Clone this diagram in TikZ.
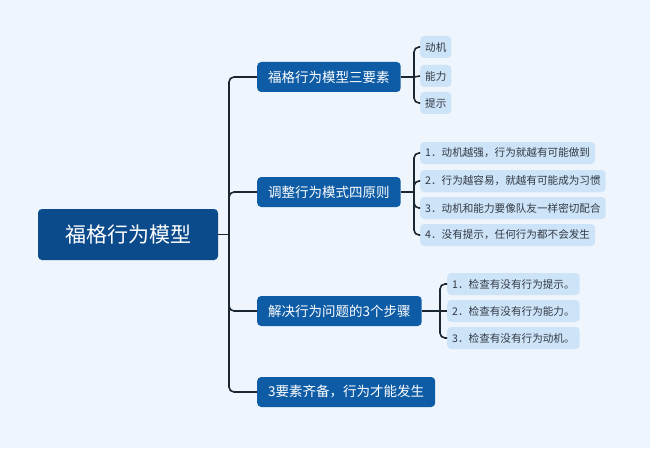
\documentclass[tikz,border=0pt]{standalone}
\usepackage{fontspec}
\setmainfont{Noto Sans CJK SC}
\begin{document}
\begin{tikzpicture}[x=1pt,y=1pt,
  rootbox/.style={fill=rootc,rounded corners=4pt,text=white,font=\fontsize{21}{24}\selectfont,minimum width=180pt,minimum height=51pt,inner sep=0pt},
  branch/.style={fill=brc,rounded corners=4pt,text=white,font=\fontsize{13.5}{16}\selectfont,minimum height=30pt,inner xsep=11pt,anchor=west},
  leaf/.style={fill=leafc,rounded corners=4pt,text=txtc,font=\fontsize{10.6}{12}\selectfont,minimum height=22pt,inner xsep=5pt,anchor=west},
  conn/.style={draw=linec,line width=1.6pt,rounded corners=5pt}]
\definecolor{rootc}{HTML}{0B4A8B}
\definecolor{brc}{HTML}{0F5CA6}
\definecolor{leafc}{HTML}{CDE3F8}
\definecolor{txtc}{HTML}{333A44}
\definecolor{linec}{HTML}{1B2633}
\definecolor{bgc}{HTML}{EEF5FC}
\fill[bgc] (0,0) rectangle (650,448);
\useasboundingbox (0,0) rectangle (650,448);
\node[rootbox] (root) at (128,213.5) {福格行为模型};
\node[branch] (b1) at (257,371) {福格行为模型三要素};
\node[branch] (b2) at (257,256) {调整行为模式四原则};
\node[branch] (b3) at (257,137) {解决行为问题的3个步骤};
\node[branch] (b4) at (257,56) {3要素齐备，行为才能发生};
\coordinate (t) at (229,213.5);
\draw[conn] (root.east) -- (t);
\draw[conn] (b1.west) -| (t) |- (b4.west);
\draw[conn] (t) |- (b2.west);
\draw[conn] (t) |- (b3.west);
% b1 leaves
\node[leaf] (l11) at (420,401) {动机};
\node[leaf] (l12) at (420,372) {能力};
\node[leaf] (l13) at (420,345) {提示};
\coordinate (k1) at (414,371);
\draw[conn] (b1.east) -- (k1);
\draw[conn] (l11.west) -| (k1) |- (l13.west);
\draw[conn] (k1) -- (l12.west);
% b2 leaves
\node[leaf] (l21) at (420,295) {1．动机越强，行为就越有可能做到};
\node[leaf] (l22) at (420,267) {2．行为越容易，就越有可能成为习惯};
\node[leaf] (l23) at (420,240) {3．动机和能力要像队友一样密切配合};
\node[leaf] (l24) at (420,213) {4．没有提示，任何行为都不会发生};
\coordinate (k2) at (414,256);
\draw[conn] (b2.east) -- (k2);
\draw[conn] (l21.west) -| (k2) |- (l24.west);
\draw[conn] (k2) |- (l22.west);
\draw[conn] (k2) |- (l23.west);
% b3 leaves
\node[leaf] (l31) at (447,164) {1．检查有没有行为提示。};
\node[leaf] (l32) at (447,137) {2．检查有没有行为能力。};
\node[leaf] (l33) at (447,110) {3．检查有没有行为动机。};
\coordinate (k3) at (440,137);
\draw[conn] (b3.east) -- (k3);
\draw[conn] (l31.west) -| (k3) |- (l33.west);
\draw[conn] (k3) -- (l32.west);
\end{tikzpicture}
\end{document}
